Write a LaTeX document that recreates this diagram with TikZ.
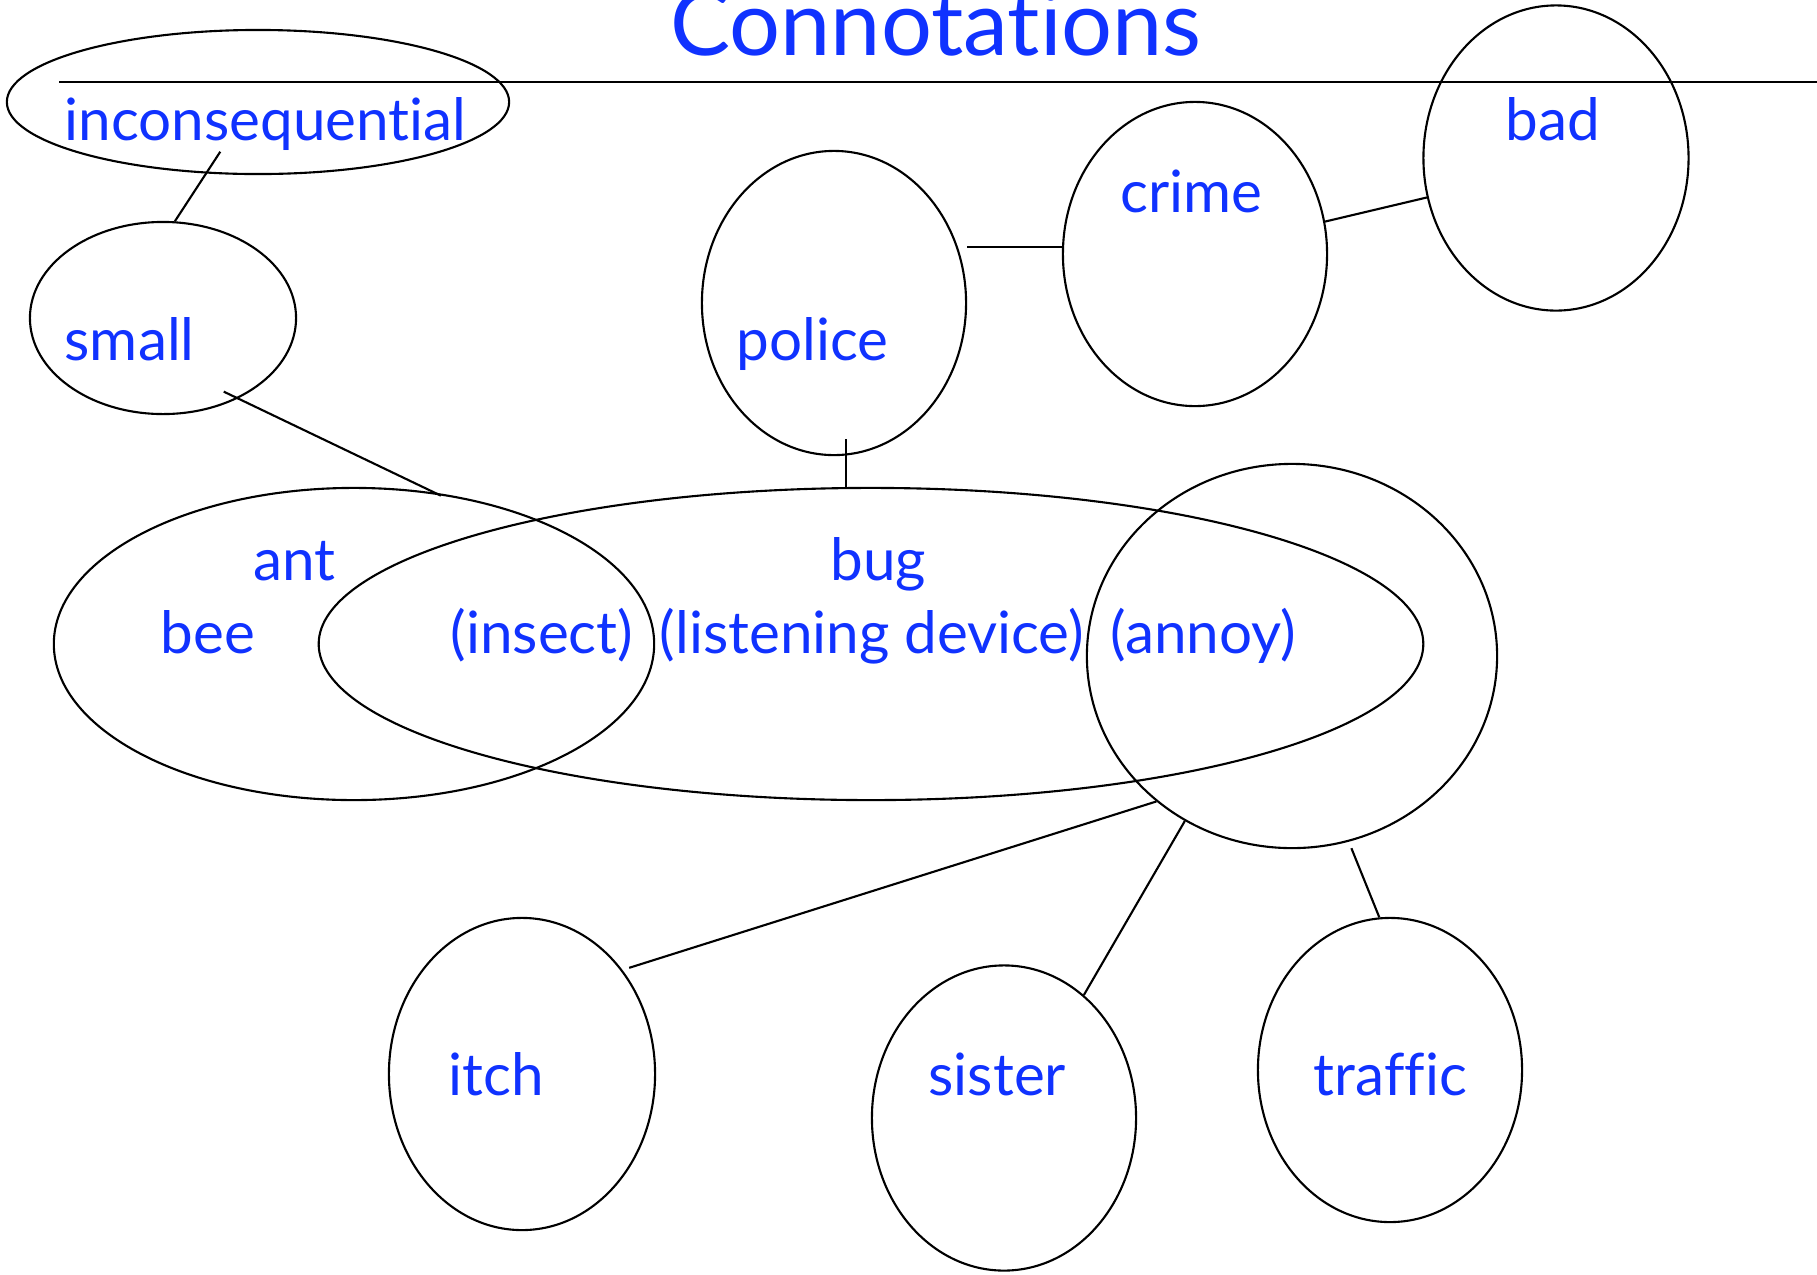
\documentclass[tikz,border=0pt]{standalone}
\usepackage{fontspec}
\setmainfont{Lato}[Ligatures=NoCommon]
\usetikzlibrary{shapes.geometric}
\definecolor{wordblue}{RGB}{16,50,255}
\tikzset{
	oval/.style 2 args={ellipse, draw=black, line width=0.6pt, minimum width=#1cm, minimum height=#2cm, inner sep=0pt},
	word/.style={text=wordblue, anchor=base west, inner sep=0pt, font=\fontsize{16.6}{19}\selectfont},
	link/.style={draw=black, line width=0.6pt}
}

\begin{document}
\begin{tikzpicture}[x=0.01cm, y=-0.01cm]
	\useasboundingbox (0,0) rectangle (1817,1275);

	% heading and rule
	\node[anchor=base, inner sep=0pt, text=wordblue, font=\fontsize{25.6}{30}\selectfont] (title) at (936,55) {Connotations};
	\draw[line width=0.7pt] (59,82) -- (1817,82);

	% top row
	\node[oval={5.02}{1.44}] (incons) at (258,102) {};
	\node[oval={2.66}{1.92}] (small) at (163,318) {};
	\node[oval={2.64}{3.04}] (police) at (834,303) {};
	\node[oval={2.64}{3.04}] (crime) at (1195,254) {};
	\node[oval={2.65}{3.05}] (bad) at (1556,158) {};

	% middle row
	\node[oval={6.00}{3.12}] (antbee) at (354,644) {};
	\node[oval={11.04}{3.12}] (bug) at (871,644) {};
	\node[oval={4.10}{3.84}] (annoy) at (1292,656) {};

	% bottom row
	\node[oval={2.66}{3.12}] (itch) at (522,1074) {};
	\node[oval={2.64}{3.05}] (sister) at (1004,1118) {};
	\node[oval={2.64}{3.04}] (traffic) at (1390,1070) {};

	% words
	\node[word] (wincons) at (64,140) {inconsequential};
	\node[word] (wsmall) at (64,360) {small};
	\node[word] (wpolice) at (736,360) {police};
	\node[word] (wcrime) at (1120,212) {crime};
	\node[word] (wbad) at (1505,140) {bad};
	\node[word] (want) at (253,580) {ant};
	\node[word] (wbee) at (160,653) {bee};
	\node[word] (winsect) at (450,653) {(insect)};
	\node[word] (wbug) at (830,580) {bug};
	\node[word] (wdevice) at (659,653) {(listening device)};
	\node[word] (wannoy) at (1110,653) {(annoy)};
	\node[word] (witch) at (448,1095) {itch};
	\node[word] (wsister) at (928,1095) {sister};
	\node[word] (wtraffic) at (1313,1095) {traffic};

	% links
	\draw[link, shorten >=-7.4pt] (small.83) -- (incons.234);
	\draw[link, shorten <=-4.5pt, shorten >=-2pt] (small.313) -- (antbee.62);
	\draw[link, shorten >=-5pt] (bug.99) -- (bug.99 |- police.south);
	\draw[link] (crime.177) -- (crime.177 -| police.east);
	\draw[link] (crime.14) -- (bad.197);
	\draw[link, shorten >=2pt] (annoy.227) -- (itch.46);
	\draw[link] (annoy.237) -- (sister.57);
	\draw[link, shorten <=2pt] (annoy.287) -- (traffic.94);
\end{tikzpicture}
\end{document}
